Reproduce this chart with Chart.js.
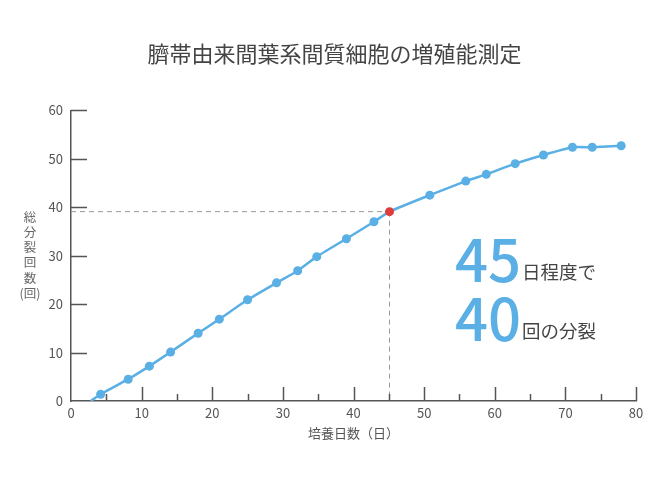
<!DOCTYPE html>
<html lang="ja">
<head>
<meta charset="utf-8">
<script src="https://cdn.jsdelivr.net/npm/chart.js@4.4.1/dist/chart.umd.min.js"></script>
<style>
  body { margin: 0; background: #fff; }
  #wrap { width: 669px; height: 488px; position: relative; }
</style>
</head>
<body>
<div id="wrap"><canvas id="growthChart"></canvas></div>
<script>
// 培養日数と総分裂回数
const days = [2.8, 4.2, 8.1, 11.1, 14.1, 18.0, 21.0, 25.0, 29.1, 32.1, 34.8, 39.0, 42.9, 45.1, 50.8, 55.9, 58.8, 62.9, 66.9, 71.0, 73.8, 77.9];
const divisions = [0, 1.4, 4.5, 7.2, 10.1, 14.0, 16.9, 20.9, 24.4, 26.9, 29.8, 33.5, 37.0, 39.1, 42.5, 45.4, 46.8, 49.0, 50.8, 52.4, 52.4, 52.7];
const highlightIndex = 13;

const xRange = [0, 80];
const yRange = [0, 60];
const tickStep = 10;

const titleText = '臍帯由来間葉系間質細胞の増殖能測定';
const xTitle = '培養日数（日）';
const yTitleChars = ['総', '分', '裂', '回', '数', '(回)'];
const note1 = ['45', '日程度で'];
const note2 = ['40', '回の分裂'];

const blue = '#5aafe4';
const red = '#e03c3c';
const axisColor = '#555';
const font = '"Noto Sans CJK JP", "Noto Sans", sans-serif';

const points = days.map((d, i) => ({ x: d, y: divisions[i] }));

const overlay = {
  id: 'overlay',
  beforeDatasetsDraw(chart) {
    // 45日・40回の補助線
    const { ctx, chartArea, scales: { x, y } } = chart;
    const px = x.getPixelForValue(days[highlightIndex]);
    const py = y.getPixelForValue(divisions[highlightIndex]);
    ctx.save();
    ctx.strokeStyle = '#999';
    ctx.lineWidth = 1;
    ctx.setLineDash([5, 4]);
    ctx.beginPath();
    ctx.moveTo(chartArea.left, py);
    ctx.lineTo(px, py);
    ctx.moveTo(px, py);
    ctx.lineTo(px, chartArea.bottom);
    ctx.stroke();
    ctx.restore();
  },
  afterDraw(chart) {
    const { ctx, chartArea, scales: { x, y } } = chart;
    ctx.save();
    // 内向きの目盛り
    ctx.strokeStyle = axisColor;
    ctx.lineWidth = 1.5;
    ctx.beginPath();
    y.ticks.forEach(t => {
      if (t.value === 0) return;
      const py = Math.round(y.getPixelForValue(t.value)) + 0.5;
      ctx.moveTo(chartArea.left, py);
      ctx.lineTo(chartArea.left + 16, py);
    });
    x.ticks.forEach(t => {
      if (t.value !== 0) {
        const px = Math.round(x.getPixelForValue(t.value)) + 0.5;
        ctx.moveTo(px, chartArea.bottom);
        ctx.lineTo(px, chartArea.bottom - 14);
      }
      if (t.value < xRange[1]) {
        const mx = Math.round(x.getPixelForValue(t.value + tickStep / 2)) + 0.5;
        ctx.moveTo(mx, chartArea.bottom);
        ctx.lineTo(mx, chartArea.bottom - 7);
      }
    });
    ctx.stroke();

    // 縦書きの軸タイトル
    ctx.fillStyle = '#666';
    ctx.font = '12.5px ' + font;
    ctx.textAlign = 'center';
    ctx.textBaseline = 'middle';
    yTitleChars.forEach((c, i) => {
      ctx.fillText(c, 30, 217 + i * 15.2);
    });

    // 注記
    ctx.textAlign = 'left';
    ctx.textBaseline = 'alphabetic';
    ctx.fillStyle = blue;
    ctx.font = '500 58px ' + font;
    ctx.fillText(note1[0], 455, 282);
    ctx.fillText(note2[0], 455, 341);
    ctx.fillStyle = '#444';
    ctx.font = '18.5px ' + font;
    ctx.fillText(note1[1], 522, 279);
    ctx.fillText(note2[1], 522, 338);
    ctx.restore();
  }
};

new Chart(document.getElementById('growthChart'), {
  type: 'line',
  data: {
    datasets: [{
      data: points,
      borderColor: blue,
      borderWidth: 2.5,
      pointRadius: points.map((p, i) => i === 0 ? 0 : 4.5),
      pointHoverRadius: 4.5,
      pointBackgroundColor: points.map((p, i) => i === highlightIndex ? red : blue),
      pointBorderWidth: 0,
      tension: 0.15,
      fill: false
    }]
  },
  options: {
    responsive: true,
    maintainAspectRatio: false,
    animation: false,
    layout: { padding: { left: 33, right: 33, top: 0, bottom: 0 } },
    plugins: {
      legend: { display: false },
      tooltip: { enabled: false },
      title: {
        display: true,
        text: titleText,
        color: '#444',
        font: { family: font, size: 22, weight: 'normal' },
        padding: { top: 40, bottom: 44 }
      }
    },
    scales: {
      x: {
        type: 'linear',
        min: xRange[0],
        max: xRange[1],
        afterFit: s => { s.height = 87; },
        ticks: { stepSize: tickStep, color: axisColor, padding: 4, font: { family: font, size: 13 } },
        grid: { display: false, drawTicks: false },
        border: { color: axisColor, width: 1.5 },
        title: {
          display: true,
          text: xTitle,
          color: axisColor,
          font: { family: font, size: 13 },
          padding: { top: 4, bottom: 47 }
        }
      },
      y: {
        min: yRange[0],
        max: yRange[1],
        afterFit: s => { s.width = 38; },
        ticks: { stepSize: tickStep, color: axisColor, padding: 8, font: { family: font, size: 13 } },
        grid: { display: false, drawTicks: false },
        border: { color: axisColor, width: 1.5 }
      }
    }
  },
  plugins: [overlay]
});
</script>
</body>
</html>
